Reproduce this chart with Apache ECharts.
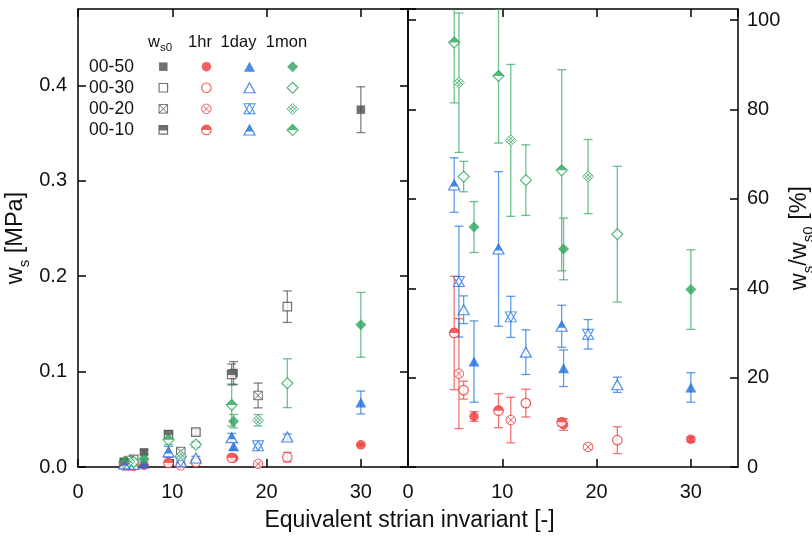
<!DOCTYPE html>
<html>
<head>
<meta charset="utf-8">
<title>w_s vs equivalent strain invariant</title>
<script src="https://cdn.jsdelivr.net/npm/echarts@6/dist/echarts.min.js"></script>
<style>
  html, body { margin: 0; padding: 0; background: #fff; }
  #chart { width: 812px; height: 536px; }
</style>
</head>
<body>
<div id="chart"></div>
<script>
// legend rows / columns
const levelNames = ['00-50', '00-30', '00-20', '00-10'];
const timeNames = ['w_s0', '1hr', '1day', '1mon'];

// equivalent strain invariant of the three tests of each level
const strain50 = [7.0, 16.5, 30.0];
const strain30 = [5.9, 12.5, 22.2];
const strain20 = [5.4, 10.9, 19.1];
const strain10 = [4.9, 9.6, 16.3];

// w_s [MPa]; rows: w_s0, 1hr, 1day, 1mon
const ws50 = [[0.0155, 0.0985, 0.3745], [0.0018, 0.0093, 0.0233], [0.0037, 0.0218, 0.0676], [0.0083, 0.0480, 0.1490]];
const ws50Err = [[0.0020, 0.0120, 0.0240], [0.0003, 0.0010, 0.0010], [0.0014, 0.0040, 0.0120], [0.0010, 0.0070, 0.0340]];
const ws30 = [[0.0080, 0.0366, 0.1680], [0.0014, 0.0052, 0.0103], [0.0028, 0.0094, 0.0314], [0.0052, 0.0235, 0.0878]];
const ws30Err = [[0.0010, 0.0030, 0.0165], [0.0002, 0.0010, 0.0050], [0.0003, 0.0018, 0.0030], [0.0003, 0.0030, 0.0256]];
const ws20 = [[0.0068, 0.0162, 0.0750], [0.0014, 0.0017, 0.0033], [0.0028, 0.0054, 0.0222], [0.0058, 0.0117, 0.0490]];
const ws20Err = [[0.0010, 0.0020, 0.0130], [0.0008, 0.0008, 0.0004], [0.0008, 0.0008, 0.0025], [0.0010, 0.0027, 0.0060]];
const ws10 = [[0.0050, 0.0340, 0.0970], [0.0015, 0.0042, 0.0097], [0.0032, 0.0158, 0.0306], [0.0048, 0.0285, 0.0650]];
const ws10Err = [[0.0007, 0.0040, 0.0110], [0.0006, 0.0013, 0.0010], [0.0003, 0.0058, 0.0046], [0.0007, 0.0050, 0.0220]];

// w_s / w_s0 [%]; rows: 1hr, 1day, 1mon
const ratio50 = [[11.3, 9.5, 6.2], [23.6, 22.1, 17.8], [53.7, 48.8, 39.7]];
const ratio50Err = [[1.1, 1.3, 0.5], [9.1, 4.1, 3.3], [5.7, 6.9, 8.9]];
const ratio30 = [[17.2, 14.3, 6.0], [35.2, 25.7, 18.4], [65.0, 64.2, 52.1]];
const ratio30Err = [[2.0, 3.1, 3.0], [3.1, 5.0, 1.7], [3.4, 7.9, 15.2]];
const ratio20 = [[20.9, 10.5, 4.5], [41.5, 33.6, 29.7], [86.0, 73.1, 65.0]];
const ratio20Err = [[12.3, 5.1, 0.6], [12.4, 4.6, 3.3], [15.6, 17.0, 8.3]];
const ratio10 = [[30.0, 12.6, 10.0], [63.1, 48.8, 31.5], [95.0, 87.5, 66.4]];
const ratio10Err = [[12.7, 3.8, 0.8], [6.1, 17.3, 4.7], [13.5, 15.0, 22.5]];

const strains = [strain50, strain30, strain20, strain10];
const wsMean = [ws50, ws30, ws20, ws10];
const wsErr = [ws50Err, ws30Err, ws20Err, ws10Err];
const ratioMean = [ratio50, ratio30, ratio20, ratio10];
const ratioErr = [ratio50Err, ratio30Err, ratio20Err, ratio10Err];

const fontFamily = '"Liberation Sans", Arial, sans-serif';
const colors = ['#4d4d4d', '#ef3a3a', '#1d6fe0', '#2fa65c'];

// marker shape per column (w_s0 square, 1hr circle, 1day triangle, 1mon diamond)
const baseSymbol = ['rect', 'circle', 'triangle', 'diamond'];
const baseSize = [[8.5, 8.5], [9.5, 9.5], [11, 10], [11, 11]];
const crossSymbol = [
  'path://M0 0H10V10H0Z M0 0L10 10 M10 0L0 10',
  'path://M0 5A5 5 0 1 1 10 5A5 5 0 1 1 0 5Z M1.5 1.5L8.5 8.5 M8.5 1.5L1.5 8.5',
  'path://M5 0L10 10H0Z M0 0H10L5 10Z',
  'path://M5 0L10 5L5 10L0 5Z M1.667 3.333L6.667 8.333 M3.333 1.667L8.333 6.667 M1.667 6.667L6.667 1.667 M3.333 8.333L8.333 3.333'
];
// filled top part of the half-filled markers
const halfSymbol = ['rect', 'path://M0 5A5 5 0 0 1 10 5Z', 'triangle', 'path://M0 5L5 0L10 5Z'];
const halfSize = [[8.5, 4.8], [9.5, 4.75], [7.15, 6.5], [11, 5.5]];
const halfOffset = [[0, -1.85], [0, -2.375], [0, -1.75], [0, -2.75]];

function markerSeries(axis, t, lv, points) {
  const col = colors[t];
  const common = { type: 'scatter', xAxisIndex: axis, yAxisIndex: axis, data: points, silent: true, z: 3 };
  const open = { color: '#fff', borderColor: col, borderWidth: 1.2 };
  if (lv === 0) {
    return [{ ...common, symbol: baseSymbol[t], symbolSize: baseSize[t], itemStyle: { color: col } }];
  }
  if (lv === 1) {
    return [{ ...common, symbol: baseSymbol[t], symbolSize: baseSize[t], itemStyle: open }];
  }
  if (lv === 2) {
    return [{ ...common, symbol: crossSymbol[t], symbolSize: baseSize[t],
      itemStyle: { color: '#fff', borderColor: col, borderWidth: 1 } }];
  }
  return [
    { ...common, symbol: baseSymbol[t], symbolSize: baseSize[t], itemStyle: open },
    { ...common, z: 4, symbol: halfSymbol[t], symbolSize: halfSize[t], symbolOffset: halfOffset[t],
      itemStyle: { color: col, borderWidth: 0 } }
  ];
}

function errorSeries(axis, color, data) {
  return {
    type: 'custom', xAxisIndex: axis, yAxisIndex: axis, data: data, clip: true, silent: true, z: 2,
    encode: { x: 0, y: [1, 2] },
    renderItem: function (params, api) {
      const x = api.value(0);
      const top = api.coord([x, api.value(2)]);
      const bot = api.coord([x, api.value(1)]);
      const cap = 4.5;
      const style = { stroke: color, lineWidth: 1.3, opacity: 0.7 };
      return {
        type: 'group',
        children: [
          { type: 'line', shape: { x1: top[0], y1: top[1], x2: bot[0], y2: bot[1] }, style: style },
          { type: 'line', shape: { x1: top[0] - cap, y1: top[1], x2: top[0] + cap, y2: top[1] }, style: style },
          { type: 'line', shape: { x1: bot[0] - cap, y1: bot[1], x2: bot[0] + cap, y2: bot[1] }, style: style }
        ]
      };
    }
  };
}

const series = [];
// error bars, left panel
for (let t = 0; t < 4; t++) {
  const bars = [];
  strains.forEach((xs, lv) => xs.forEach((x, i) => {
    const m = wsMean[lv][t][i], e = wsErr[lv][t][i];
    bars.push([x, m - e, m + e]);
  }));
  series.push(errorSeries(0, colors[t], bars));
}
// error bars, right panel
for (let t = 1; t < 4; t++) {
  const bars = [];
  strains.forEach((xs, lv) => xs.forEach((x, i) => {
    const m = ratioMean[lv][t - 1][i], e = ratioErr[lv][t - 1][i];
    bars.push([x, m - e, m + e]);
  }));
  series.push(errorSeries(2, colors[t], bars));
}
// markers
for (let t = 0; t < 4; t++) {
  for (let lv = 0; lv < 4; lv++) {
    series.push(...markerSeries(0, t, lv, strains[lv].map((x, i) => [x, wsMean[lv][t][i]])));
  }
}
for (let t = 1; t < 4; t++) {
  for (let lv = 0; lv < 4; lv++) {
    series.push(...markerSeries(2, t, lv, strains[lv].map((x, i) => [x, ratioMean[lv][t - 1][i]])));
  }
}
// legend table symbols
for (let t = 0; t < 4; t++) {
  for (let lv = 0; lv < 4; lv++) {
    series.push(...markerSeries(4, t, lv, [[timeNames[t], levelNames[lv]]]));
  }
}

const frameLine = { color: '#000', width: 1.5 };
const labelFont = { fontFamily: fontFamily, fontSize: 20, color: '#111' };
function frameAxis(extra) {
  return Object.assign({
    type: 'value',
    axisLine: { show: true, onZero: false, lineStyle: frameLine },
    axisTick: { show: true, inside: true, length: 8, lineStyle: frameLine },
    axisLabel: { show: false },
    splitLine: { show: false }
  }, extra);
}
const subRich = {
  w: { fontFamily: fontFamily, fontSize: 23.5, color: '#111', padding: [0, 0, 4, 0], verticalAlign: 'top' },
  s: { fontFamily: fontFamily, fontSize: 15, color: '#111', verticalAlign: 'bottom' }
};

const xRange = { min: 0, max: 35, interval: 10 };
const xLabels = Object.assign({ show: true, margin: 15, showMaxLabel: false }, labelFont);

const legendHeadX = [160, 200, 238.5, 286.5];
const legendRowY = [67, 88, 109, 130];
const graphics = [
  { type: 'text', x: 409.5, y: 521,
    style: { text: 'Equivalent strian invariant [-]', font: '23px ' + fontFamily, fill: '#111',
      align: 'center', verticalAlign: 'middle', textAlign: 'center', textVerticalAlign: 'middle' } }
];
timeNames.forEach((name, i) => {
  graphics.push({ type: 'text', x: legendHeadX[i], y: 44,
    style: { text: i === 0 ? '{w|w}{s|s0}' : '{w|' + name + '}', fill: '#111',
      align: 'center', verticalAlign: 'middle', textAlign: 'center', textVerticalAlign: 'middle',
      rich: {
        w: { fontFamily: fontFamily, fontSize: 16.5, color: '#111', padding: [0, 0, 3, 0], verticalAlign: 'top' },
        s: { fontFamily: fontFamily, fontSize: 11.5, color: '#111', verticalAlign: 'bottom' }
      } } });
});
levelNames.forEach((name, i) => {
  graphics.push({ type: 'text', x: 111.5, y: legendRowY[i],
    style: { text: name, font: '17.5px ' + fontFamily, fill: '#111',
      align: 'center', verticalAlign: 'middle', textAlign: 'center', textVerticalAlign: 'middle' } });
});

const chart = echarts.init(document.getElementById('chart'));
chart.setOption({
  animation: false,
  backgroundColor: '#fff',
  grid: [
    { left: 78, top: 9, width: 330, height: 458, outerBoundsMode: 'none' },
    { left: 408, top: 9, width: 330, height: 458, outerBoundsMode: 'none' },
    { left: 141.75, top: 56.1, width: 172.4, height: 84.4, outerBoundsMode: 'none' }
  ],
  xAxis: [
    frameAxis(Object.assign({ gridIndex: 0, position: 'bottom', axisLabel: xLabels }, xRange)),
    frameAxis(Object.assign({ gridIndex: 0, position: 'top' }, xRange)),
    frameAxis(Object.assign({ gridIndex: 1, position: 'bottom', axisLabel: xLabels }, xRange)),
    frameAxis(Object.assign({ gridIndex: 1, position: 'top' }, xRange)),
    { type: 'category', gridIndex: 2, data: timeNames, show: false }
  ],
  yAxis: [
    frameAxis({
      gridIndex: 0, position: 'left', min: 0, max: 0.48, interval: 0.1,
      axisLabel: Object.assign({ show: true, margin: 11, showMaxLabel: false, formatter: v => v.toFixed(1) }, labelFont),
      name: '{w|w}{s|s}{w| [MPa]}', nameLocation: 'middle', nameRotate: 90, nameGap: 46,
      nameTextStyle: { rich: subRich }
    }),
    frameAxis({ gridIndex: 0, position: 'right', min: 0, max: 0.48, interval: 0.1 }),
    frameAxis({
      gridIndex: 1, position: 'right', min: 0, max: 102.5, interval: 20,
      axisLabel: Object.assign({ show: true, margin: 9, showMaxLabel: false }, labelFont),
      name: '{w|w}{s|s}{w|/w}{s|s0}{w| [%]}', nameLocation: 'middle', nameRotate: 90, nameGap: 50,
      nameTextStyle: { rich: subRich }
    }),
    frameAxis({ gridIndex: 1, position: 'left', min: 0, max: 102.5, interval: 20 }),
    { type: 'category', gridIndex: 2, data: levelNames, inverse: true, show: false }
  ],
  graphic: graphics,
  series: series
});
</script>
</body>
</html>
